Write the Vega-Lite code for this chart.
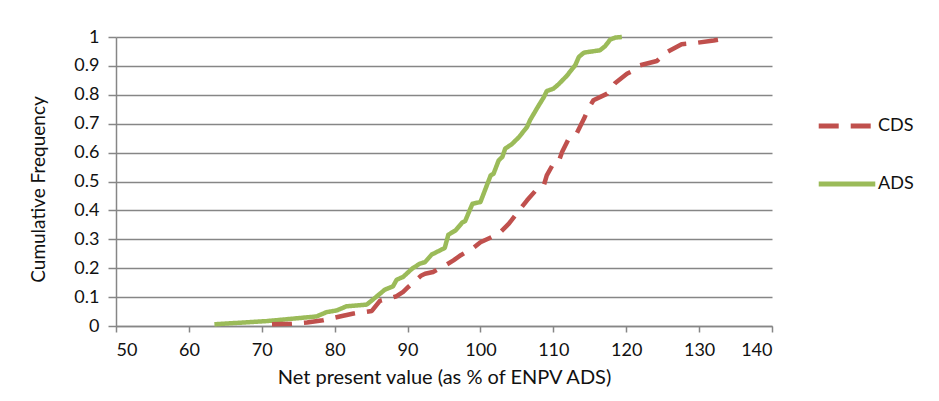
{
  "$schema": "https://vega.github.io/schema/vega-lite/v6.json",
  "autosize": "none",
  "width": 656,
  "height": 289,
  "padding": {"left": 116, "top": 37, "right": 167, "bottom": 75},
  "background": "white",
  "config": {
    "view": {"stroke": null},
    "font": "Lato",
    "axis": {"labelFont": "Lato", "titleFont": "Lato", "labelColor": "#111", "titleColor": "#111", "titleFontWeight": "normal"}
  },
  "data": {
    "values": [
      {"npv": 63.5, "freq": 0.006, "series": "ADS"},
      {"npv": 70.7, "freq": 0.017, "series": "ADS"},
      {"npv": 77.5, "freq": 0.033, "series": "ADS"},
      {"npv": 78.9, "freq": 0.048, "series": "ADS"},
      {"npv": 80.3, "freq": 0.054, "series": "ADS"},
      {"npv": 81.6, "freq": 0.068, "series": "ADS"},
      {"npv": 84.4, "freq": 0.074, "series": "ADS"},
      {"npv": 85.8, "freq": 0.103, "series": "ADS"},
      {"npv": 86.9, "freq": 0.126, "series": "ADS"},
      {"npv": 88.0, "freq": 0.137, "series": "ADS"},
      {"npv": 88.5, "freq": 0.16, "series": "ADS"},
      {"npv": 89.4, "freq": 0.17, "series": "ADS"},
      {"npv": 90.6, "freq": 0.198, "series": "ADS"},
      {"npv": 91.7, "freq": 0.216, "series": "ADS"},
      {"npv": 92.4, "freq": 0.221, "series": "ADS"},
      {"npv": 93.3, "freq": 0.247, "series": "ADS"},
      {"npv": 95.1, "freq": 0.27, "series": "ADS"},
      {"npv": 95.6, "freq": 0.316, "series": "ADS"},
      {"npv": 96.6, "freq": 0.331, "series": "ADS"},
      {"npv": 97.5, "freq": 0.358, "series": "ADS"},
      {"npv": 97.9, "freq": 0.363, "series": "ADS"},
      {"npv": 98.9, "freq": 0.423, "series": "ADS"},
      {"npv": 100.0, "freq": 0.429, "series": "ADS"},
      {"npv": 100.7, "freq": 0.475, "series": "ADS"},
      {"npv": 101.4, "freq": 0.521, "series": "ADS"},
      {"npv": 101.8, "freq": 0.527, "series": "ADS"},
      {"npv": 102.5, "freq": 0.573, "series": "ADS"},
      {"npv": 103.0, "freq": 0.585, "series": "ADS"},
      {"npv": 103.4, "freq": 0.614, "series": "ADS"},
      {"npv": 104.3, "freq": 0.629, "series": "ADS"},
      {"npv": 105.3, "freq": 0.654, "series": "ADS"},
      {"npv": 106.4, "freq": 0.689, "series": "ADS"},
      {"npv": 106.8, "freq": 0.712, "series": "ADS"},
      {"npv": 107.8, "freq": 0.755, "series": "ADS"},
      {"npv": 108.7, "freq": 0.792, "series": "ADS"},
      {"npv": 109.1, "freq": 0.813, "series": "ADS"},
      {"npv": 110.0, "freq": 0.821, "series": "ADS"},
      {"npv": 110.7, "freq": 0.836, "series": "ADS"},
      {"npv": 111.9, "freq": 0.867, "series": "ADS"},
      {"npv": 112.6, "freq": 0.89, "series": "ADS"},
      {"npv": 113.0, "freq": 0.902, "series": "ADS"},
      {"npv": 113.5, "freq": 0.931, "series": "ADS"},
      {"npv": 114.2, "freq": 0.946, "series": "ADS"},
      {"npv": 116.4, "freq": 0.954, "series": "ADS"},
      {"npv": 117.1, "freq": 0.968, "series": "ADS"},
      {"npv": 117.8, "freq": 0.991, "series": "ADS"},
      {"npv": 118.5, "freq": 0.998, "series": "ADS"},
      {"npv": 119.4, "freq": 1.0, "series": "ADS"},
      {"npv": 71.4, "freq": 0.006, "series": "CDS"},
      {"npv": 74.1, "freq": 0.008, "series": "CDS"},
      {"npv": 76.2, "freq": 0.012, "series": "CDS"},
      {"npv": 78.4, "freq": 0.02, "series": "CDS"},
      {"npv": 80.7, "freq": 0.033, "series": "CDS"},
      {"npv": 82.6, "freq": 0.043, "series": "CDS"},
      {"npv": 85.1, "freq": 0.052, "series": "CDS"},
      {"npv": 86.2, "freq": 0.087, "series": "CDS"},
      {"npv": 88.5, "freq": 0.103, "series": "CDS"},
      {"npv": 89.4, "freq": 0.118, "series": "CDS"},
      {"npv": 90.1, "freq": 0.135, "series": "CDS"},
      {"npv": 91.9, "freq": 0.175, "series": "CDS"},
      {"npv": 92.4, "freq": 0.181, "series": "CDS"},
      {"npv": 93.5, "freq": 0.187, "series": "CDS"},
      {"npv": 95.2, "freq": 0.21, "series": "CDS"},
      {"npv": 96.3, "freq": 0.227, "series": "CDS"},
      {"npv": 97.3, "freq": 0.245, "series": "CDS"},
      {"npv": 98.9, "freq": 0.268, "series": "CDS"},
      {"npv": 100.0, "freq": 0.29, "series": "CDS"},
      {"npv": 102.5, "freq": 0.319, "series": "CDS"},
      {"npv": 103.9, "freq": 0.354, "series": "CDS"},
      {"npv": 105.3, "freq": 0.4, "series": "CDS"},
      {"npv": 106.4, "freq": 0.435, "series": "CDS"},
      {"npv": 107.8, "freq": 0.475, "series": "CDS"},
      {"npv": 108.7, "freq": 0.487, "series": "CDS"},
      {"npv": 109.1, "freq": 0.521, "series": "CDS"},
      {"npv": 110.0, "freq": 0.562, "series": "CDS"},
      {"npv": 110.7, "freq": 0.567, "series": "CDS"},
      {"npv": 111.2, "freq": 0.602, "series": "CDS"},
      {"npv": 112.1, "freq": 0.648, "series": "CDS"},
      {"npv": 113.2, "freq": 0.666, "series": "CDS"},
      {"npv": 114.2, "freq": 0.717, "series": "CDS"},
      {"npv": 114.8, "freq": 0.752, "series": "CDS"},
      {"npv": 115.5, "freq": 0.781, "series": "CDS"},
      {"npv": 117.4, "freq": 0.804, "series": "CDS"},
      {"npv": 118.5, "freq": 0.841, "series": "CDS"},
      {"npv": 120.1, "freq": 0.873, "series": "CDS"},
      {"npv": 121.5, "freq": 0.89, "series": "CDS"},
      {"npv": 121.9, "freq": 0.902, "series": "CDS"},
      {"npv": 124.2, "freq": 0.917, "series": "CDS"},
      {"npv": 125.6, "freq": 0.948, "series": "CDS"},
      {"npv": 127.6, "freq": 0.975, "series": "CDS"},
      {"npv": 129.7, "freq": 0.98, "series": "CDS"},
      {"npv": 132.0, "freq": 0.988, "series": "CDS"},
      {"npv": 134.2, "freq": 0.997, "series": "CDS"}
    ]
  },
  "mark": {"type": "line", "strokeWidth": 4.5, "strokeJoin": "round", "strokeCap": "butt"},
  "encoding": {
    "x": {
      "field": "npv",
      "type": "quantitative",
      "scale": {"domain": [50, 140], "nice": false, "zero": false},
      "axis": {
        "title": "Net present value (as % of ENPV ADS)",
        "values": [50, 60, 70, 80, 90, 100, 110, 120, 130, 140],
        "grid": false,
        "domainColor": "#868686",
        "domainWidth": 1.5,
        "tickColor": "#868686",
        "tickWidth": 1.5,
        "tickSize": 6,
        "labelFontSize": 18,
        "labelPadding": 9,
        "titleFontSize": 20,
        "titlePadding": 8
      }
    },
    "y": {
      "field": "freq",
      "type": "quantitative",
      "scale": {"domain": [0, 1], "nice": false},
      "axis": {
        "title": "Cumulative Frequency",
        "values": [0, 0.1, 0.2, 0.3, 0.4, 0.5, 0.6, 0.7, 0.8, 0.9, 1],
        "format": "~g",
        "grid": true,
        "gridColor": "#868686",
        "gridWidth": 1.5,
        "domainColor": "#868686",
        "domainWidth": 1.5,
        "tickColor": "#868686",
        "tickWidth": 1.5,
        "tickSize": 8,
        "labelFontSize": 18,
        "labelPadding": 9,
        "titleFontSize": 19,
        "titlePadding": 25,
        "titleY": 152
      }
    },
    "color": {
      "field": "series",
      "type": "nominal",
      "scale": {"domain": ["CDS", "ADS"], "range": ["#C0504D", "#9BBB59"]},
      "legend": {
        "title": null,
        "orient": "none",
        "legendX": 700,
        "legendY": 58,
        "symbolType": "stroke",
        "symbolSize": 3200,
        "symbolStrokeWidth": 5,
        "labelFontSize": 18,
        "labelFont": "Lato",
        "labelColor": "#111",
        "rowPadding": 17,
        "labelOffset": 0
      }
    },
    "strokeDash": {
      "field": "series",
      "type": "nominal",
      "scale": {"domain": ["CDS", "ADS"], "range": [[20, 12], [1, 0]]},
      "legend": {
        "title": null,
        "orient": "none",
        "legendX": 700,
        "legendY": 58,
        "symbolType": "stroke",
        "symbolSize": 3200,
        "symbolStrokeWidth": 5,
        "labelFontSize": 18,
        "labelFont": "Lato",
        "labelColor": "#111",
        "rowPadding": 17,
        "labelOffset": 0
      }
    }
  }
}
